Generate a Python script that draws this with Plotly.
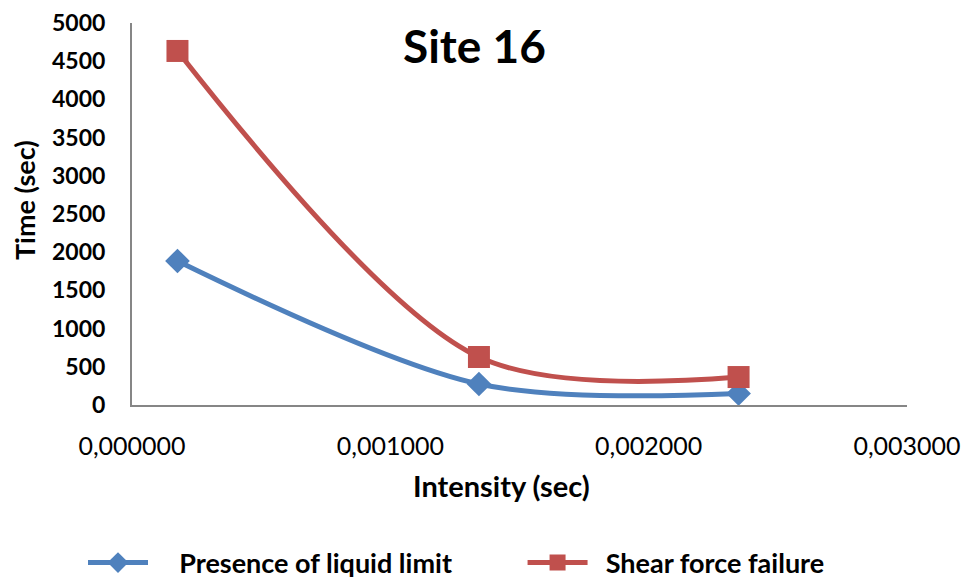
import plotly.graph_objects as go

# Intensity (x) and time (y) readings for Site 16
intensity = [0.000176, 0.001343, 0.002348]
liquid_limit = [1885, 275, 150]
shear_failure = [4634, 628, 366]

series_names = ["Presence of liquid limit", "Shear force failure"]
x_ticks = [0.0, 0.001, 0.002, 0.003]
y_ticks = list(range(0, 5001, 500))

FONT = "Lato"
BLUE = "#4F81BD"
RED = "#C0504D"
AXIS = "#868686"
W, H = 965, 580
ML, MR, MT, MB = 132, 58, 23, 175
NBSP = "\u00a0"


def px_x(px):
    """Horizontal pixel -> paper fraction."""
    return (px - ML) / (W - ML - MR)


def px_y(py):
    """Vertical pixel (from top) -> paper fraction."""
    return 1 - (py - MT) / (H - MT - MB)


fig = go.Figure()
fig.add_trace(go.Scatter(
    x=intensity, y=liquid_limit,
    name=NBSP * 4 + series_names[0] + NBSP * 10,
    mode="lines+markers",
    line=dict(color=BLUE, width=5, shape="spline", smoothing=0.9),
    marker=dict(symbol="diamond", size=19, color=BLUE),
))
fig.add_trace(go.Scatter(
    x=intensity, y=shear_failure,
    name=NBSP * 2 + series_names[1],
    mode="lines+markers",
    line=dict(color=RED, width=5, shape="spline", smoothing=0.9),
    marker=dict(symbol="square", size=22, color=RED),
))

fig.update_layout(
    width=W, height=H,
    margin=dict(l=ML, r=MR, t=MT, b=MB, autoexpand=False),
    paper_bgcolor="white", plot_bgcolor="white",
    separators=",.",
    font=dict(family=FONT, color="black"),
    showlegend=True,
    legend=dict(
        orientation="h",
        xref="container", x=83 / W, xanchor="left",
        yref="container", y=(H - 563) / H, yanchor="middle",
        font=dict(family=FONT, size=27, color="black", weight="bold"),
        itemwidth=60,
        bgcolor="rgba(0,0,0,0)",
    ),
    annotations=[
        dict(text="<b>Site 16</b>", x=px_x(474), y=px_y(45),
             xref="paper", yref="paper", xanchor="center", yanchor="middle",
             showarrow=False, font=dict(family=FONT, size=46, color="black")),
        dict(text="<b>Intensity (sec)</b>", x=px_x(501), y=px_y(485),
             xref="paper", yref="paper", xanchor="center", yanchor="middle",
             showarrow=False, font=dict(family=FONT, size=29, color="black")),
        dict(text="<b>Time (sec)</b>", x=px_x(24), y=px_y(200), textangle=-90,
             xref="paper", yref="paper", xanchor="center", yanchor="middle",
             showarrow=False, font=dict(family=FONT, size=27, color="black")),
    ],
)

fig.update_xaxes(
    range=[0, 0.003], tickvals=x_ticks, tickformat=".6f",
    showline=True, linecolor=AXIS, linewidth=2,
    showgrid=False, zeroline=False, ticks="",
    ticklabelstandoff=18,
    tickfont=dict(family=FONT, size=25, color="black"),
)
fig.update_yaxes(
    range=[0, 5000], tickvals=y_ticks, tickformat="d",
    showline=True, linecolor=AXIS, linewidth=2,
    showgrid=False, zeroline=False, ticks="",
    ticklabelstandoff=20,
    tickfont=dict(family=FONT, size=23, color="black", weight="bold"),
)

fig.write_html("out.html")
